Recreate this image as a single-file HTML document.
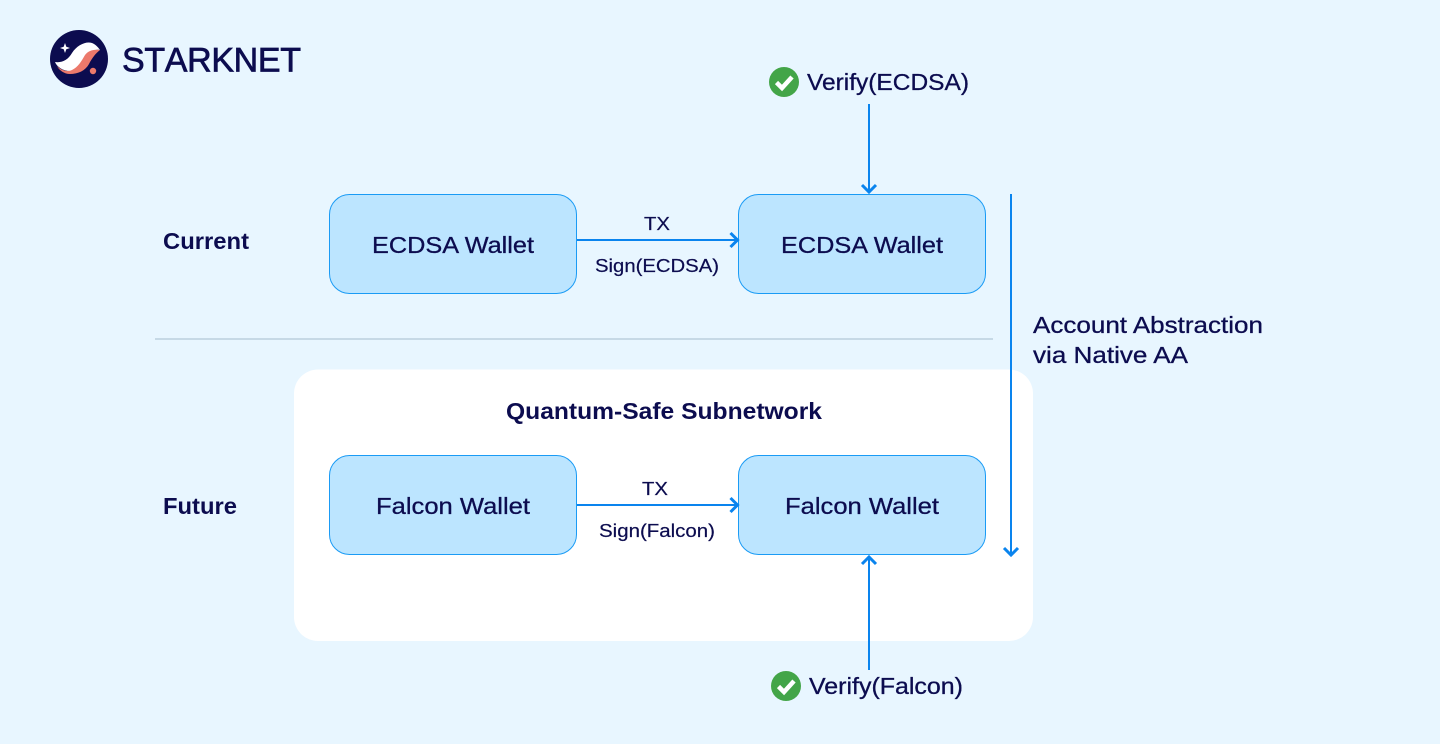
<!DOCTYPE html>
<html><head><meta charset="utf-8">
<style>
html,body{margin:0;padding:0;background:#e8f6ff}
svg{display:block}
text{font-family:"Liberation Sans",sans-serif;fill:#0c0c4f}
</style></head>
<body>
<svg width="1440" height="744" viewBox="0 0 1440 744" xmlns="http://www.w3.org/2000/svg">
<rect width="1440" height="744" fill="#e8f6ff"/>
<!-- logo -->
<circle cx="79" cy="59" r="29" fill="#0c0c4f"/>
<path d="M55 62C62 63 68 60 72 53C77 45 86 41 92 43C95 44 98 47 100 50C94 49 89 52 86 58C82 66 78 71 70 71C63 71 57 67 55 62Z" fill="#fff"/>
<path d="M57 66C62 71 68 72 72 70C78 67 81 62 85 55C88 51 93 49 100 50C96 53 92 58 89 64C85 71 78 74 70 74C64 74 59 70 57 66Z" fill="#ec796b"/>
<circle cx="93" cy="71" r="3.2" fill="#ec796b"/>
<path d="M65 43L66.300 46.700L70 48L66.300 49.300L65 53L63.700 49.300L60 48L63.700 46.700Z" fill="#fff"/>
<text x="122" y="71.500" font-size="34" stroke="#0c0c4f" stroke-width="0.700" style="font-kerning:none" textLength="179" lengthAdjust="spacing">STARKNET</text>
<!-- divider -->
<rect x="155" y="338" width="838" height="2" fill="#c6d9e6"/>
<!-- white panel -->
<rect x="294" y="369.500" width="739" height="271.500" rx="24" fill="#fff"/>
<!-- boxes -->
<g fill="#bce5ff" stroke="#1a9bf5" stroke-width="1">
<rect x="329.500" y="194.500" width="247" height="99" rx="20"/>
<rect x="738.500" y="194.500" width="247" height="99" rx="20"/>
<rect x="329.500" y="455.500" width="247" height="99" rx="20"/>
<rect x="738.500" y="455.500" width="247" height="99" rx="20"/>
</g>
<!-- connectors -->
<g fill="none" stroke="#0a84ee" stroke-width="2">
<path d="M577 240H738"/>
<path d="M577 505H738"/>
<path d="M869 104V192"/>
<path d="M869 670V557"/>
<path d="M1011 194V555"/>
</g>
<g fill="none" stroke="#0a84ee" stroke-width="3">
<path d="M730.500 233L737.500 240L730.500 247"/>
<path d="M730.500 498L737.500 505L730.500 512"/>
<path d="M862 185L869 192L876 185"/>
<path d="M862 564L869 557L876 564"/>
<path d="M1004 548L1011 555L1018 548"/>
</g>
<!-- labels -->
<g font-size="23" stroke="#0c0c4f" stroke-width="0.300">
<text x="372" y="253" textLength="162" lengthAdjust="spacingAndGlyphs">ECDSA Wallet</text>
<text x="781" y="253" textLength="162" lengthAdjust="spacingAndGlyphs">ECDSA Wallet</text>
<text x="376" y="514" textLength="154" lengthAdjust="spacingAndGlyphs">Falcon Wallet</text>
<text x="785" y="514" textLength="154" lengthAdjust="spacingAndGlyphs">Falcon Wallet</text>
<text x="807" y="90" textLength="162" lengthAdjust="spacingAndGlyphs">Verify(ECDSA)</text>
<text x="809" y="694" textLength="154" lengthAdjust="spacingAndGlyphs">Verify(Falcon)</text>
<text x="1033" y="333" textLength="230" lengthAdjust="spacingAndGlyphs">Account Abstraction</text>
<text x="1033" y="363" textLength="155" lengthAdjust="spacingAndGlyphs">via Native AA</text>
</g>
<g font-size="18.500" stroke="#0c0c4f" stroke-width="0.200">
<text x="644" y="230" textLength="26" lengthAdjust="spacingAndGlyphs">TX</text>
<text x="595" y="272" textLength="124" lengthAdjust="spacingAndGlyphs">Sign(ECDSA)</text>
<text x="642" y="495" textLength="26" lengthAdjust="spacingAndGlyphs">TX</text>
<text x="599" y="537" textLength="116" lengthAdjust="spacingAndGlyphs">Sign(Falcon)</text>
</g>
<g font-size="23" font-weight="700">
<text x="163" y="249" textLength="86" lengthAdjust="spacingAndGlyphs">Current</text>
<text x="163" y="514" textLength="74" lengthAdjust="spacingAndGlyphs">Future</text>
<text x="506" y="419" textLength="316" lengthAdjust="spacingAndGlyphs">Quantum-Safe Subnetwork</text>
</g>
<!-- checks -->
<circle cx="784" cy="82" r="15" fill="#43a548"/>
<path d="M776.500 82.500L782 88L792 77" fill="none" stroke="#fff" stroke-width="4.500"/>
<circle cx="786" cy="686" r="15" fill="#43a548"/>
<path d="M778.500 686.500L784 692L794 681" fill="none" stroke="#fff" stroke-width="4.500"/>
</svg>
</body></html>
